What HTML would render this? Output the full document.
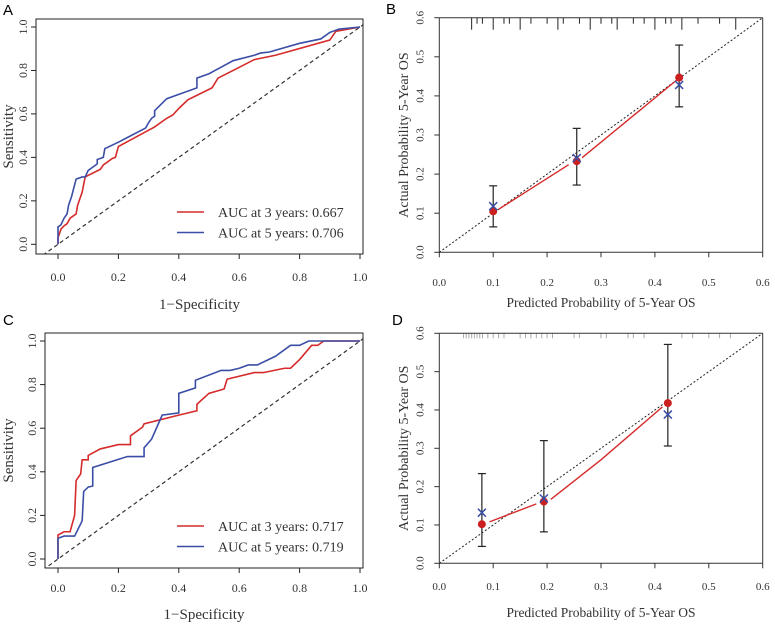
<!DOCTYPE html>
<html><head><meta charset="utf-8"><style>
html,body{margin:0;padding:0;background:#fff;}
svg{display:block;font-family:"Liberation Serif",serif;}
</style></head><body>
<svg id="fig" width="775" height="628" viewBox="0 0 775 628"></svg>
<script>
// ROC data (fpr, tpr)
const rocA3x=[0,0,0.01,0.02,0.03,0.04,0.05,0.06,0.065,0.08,0.09,0.14,0.15,0.18,0.19,0.2,0.32,0.36,0.38,0.4,0.43,0.51,0.53,0.58,0.65,0.72,0.9,0.92,1];
const rocA3y=[0,0.03,0.07,0.085,0.095,0.12,0.13,0.14,0.18,0.24,0.31,0.345,0.365,0.395,0.4,0.45,0.54,0.58,0.595,0.625,0.665,0.72,0.765,0.8,0.85,0.87,0.94,0.98,1];
const rocA5x=[0,0,0.01,0.02,0.03,0.035,0.045,0.06,0.08,0.09,0.1,0.11,0.13,0.13,0.15,0.155,0.2,0.29,0.3,0.31,0.32,0.32,0.36,0.46,0.46,0.5,0.52,0.58,0.65,0.67,0.7,0.8,0.87,0.9,0.93,1];
const rocA5y=[0,0.08,0.09,0.12,0.14,0.18,0.22,0.3,0.31,0.31,0.34,0.35,0.37,0.39,0.4,0.44,0.47,0.535,0.56,0.58,0.59,0.615,0.67,0.72,0.765,0.785,0.8,0.845,0.87,0.88,0.885,0.925,0.945,0.975,0.99,1];
const rocC3x=[0,0,0.02,0.04,0.055,0.06,0.075,0.08,0.1,0.1,0.14,0.2,0.24,0.24,0.28,0.285,0.4,0.46,0.46,0.5,0.55,0.56,0.65,0.68,0.75,0.77,0.8,0.84,0.86,0.88,1];
const rocC3y=[0,0.11,0.125,0.125,0.2,0.36,0.39,0.455,0.455,0.475,0.505,0.525,0.525,0.565,0.605,0.62,0.66,0.68,0.71,0.76,0.78,0.825,0.855,0.855,0.875,0.875,0.915,0.98,0.98,1,1];
const rocC5x=[0,0,0.02,0.055,0.08,0.085,0.1,0.115,0.115,0.23,0.285,0.285,0.31,0.345,0.4,0.4,0.455,0.455,0.54,0.57,0.6,0.63,0.66,0.72,0.77,0.8,0.83,1];
const rocC5y=[0,0.095,0.105,0.105,0.175,0.31,0.33,0.335,0.42,0.47,0.47,0.51,0.55,0.66,0.67,0.76,0.785,0.82,0.865,0.865,0.875,0.89,0.89,0.93,0.98,0.98,1,1];
const rocTicks=[0,0.2,0.4,0.6,0.8,1.0];
const rocTickLabels=["0.0","0.2","0.4","0.6","0.8","1.0"];
const legendA=["AUC at 3 years: 0.667","AUC at 5 years: 0.706"];
const legendC=["AUC at 3 years: 0.717","AUC at 5 years: 0.719"];
// Calibration data
const calBx=[0.1,0.255,0.445];
const calBy=[0.105,0.233,0.447];
const calBcx=[0.118,0.241,0.428];
const calBlo=[0.065,0.172,0.372];
const calBhi=[0.17,0.317,0.53];
const calBlineX=[[0.11,0.24],[0.265,0.44]];
const calBlineY=[[0.11,0.224],[0.242,0.44]];
const calDx=[0.079,0.194,0.424];
const calDy=[0.102,0.161,0.418];
const calDcx=[0.132,0.169,0.388];
const calDlo=[0.044,0.082,0.306];
const calDhi=[0.234,0.32,0.571];
const calDlineX=[[0.093,0.18],[0.207,0.3,0.414]];
const calDlineY=[[0.108,0.155],[0.167,0.27,0.408]];
const rugB=[0.06,0.07,0.08,0.1,0.12,0.13,0.15,0.17,0.2,0.22,0.23,0.26,0.28,0.3,0.32,0.33,0.36,0.38,0.4,0.42,0.43,0.45,0.48,0.52,0.55];
const rugD=[0.045,0.05,0.055,0.06,0.065,0.07,0.075,0.08,0.09,0.1,0.11,0.12,0.15,0.16,0.17,0.18,0.19,0.2,0.21,0.25,0.26,0.3,0.31,0.35,0.36,0.38,0.45,0.47,0.5,0.52,0.54];
const calTicks=[0,0.1,0.2,0.3,0.4,0.5,0.6];
const calTickLabels=["0.0","0.1","0.2","0.3","0.4","0.5","0.6"];

const NS="http://www.w3.org/2000/svg";
const svg=document.getElementById('fig');
function el(tag,attrs,parent,text){const e=document.createElementNS(NS,tag);for(const k in attrs)e.setAttribute(k,attrs[k]);if(text!==undefined)e.textContent=text;(parent||svg).appendChild(e);return e;}
const RED="#d52b2b",BLUE="#3b4ea6";

function rocPanel(name,letter,lx,ly,box,X0,X1,Y0,Y1,tickLabY,titleY,s3x,s3y,s5x,s5y,legend,legY){
  const g=el('g',{},svg);
  
  
  const sx=v=>X0+(X1-X0)*v, sy=v=>Y0+(Y1-Y0)*v;
  const lab=el('text',{x:lx,y:ly,'font-family':'Liberation Sans,sans-serif','font-size':15},g,letter);
  
  
  const cp='clip'+letter;
  const cl=el('clipPath',{id:cp},g);el('rect',{x:box[0],y:box[1],width:box[2]-box[0],height:box[3]-box[1]},cl);
  const d=el('line',{x1:sx(-0.05),y1:sy(-0.05),x2:sx(1.05),y2:sy(1.05),stroke:'#333','stroke-width':1.2,'stroke-dasharray':'4,3','clip-path':`url(#${cp})`},g);
  
  
  [[s3x,s3y,RED,'roc-3-year'],[s5x,s5y,BLUE,'roc-5-year']].forEach(([xs,ys,c,n])=>{
    const p=el('polyline',{points:xs.map((v,i)=>sx(v)+','+sy(ys[i])).join(' '),fill:'none',stroke:c,'stroke-width':1.6},g);
    
    
  });
  const b=el('rect',{x:box[0],y:box[1],width:box[2]-box[0],height:box[3]-box[1],fill:'none',stroke:'#222','stroke-width':1},g);
  
  
  rocTicks.forEach((t,i)=>{
    el('line',{x1:sx(t),x2:sx(t),y1:box[3],y2:box[3]+5,stroke:'#222'},g);
    const tl=el('text',{x:sx(t),y:tickLabY,'text-anchor':'middle','font-size':12,fill:'#333'},g,rocTickLabels[i]);
    
    
    el('line',{x1:box[0]-5,x2:box[0],y1:sy(t),y2:sy(t),stroke:'#222'},g);
    const yl=el('text',{x:0,y:0,transform:`translate(${box[0]-9},${sy(t)}) rotate(-90)`,'text-anchor':'middle','font-size':12,fill:'#333'},g,rocTickLabels[i]);
    
    
  });
  const xt=el('text',{x:(box[0]+box[2])/2,y:titleY,'text-anchor':'middle','font-size':15,fill:'#333'},g,'1\u2212Specificity');
  
  
  const yt=el('text',{x:0,y:0,transform:`translate(13,${(box[1]+box[3])/2}) rotate(-90)`,'text-anchor':'middle','font-size':15,fill:'#333'},g,'Sensitivity');
  
  
  [RED,BLUE].forEach((c,i)=>{
    const y=legY+i*20.5;
    const lg=el('g',{},g);
    
    
    el('line',{x1:177,x2:204,y1:y,y2:y,stroke:c,'stroke-width':1.6},lg);
    el('text',{x:218,y:y+5,'font-size':14,fill:'#333'},lg,legend[i]);
  });
}

function calPanel(name,letter,lx,ly,box,tickLabY,titleY,px,py,cx,lo,hi,lx2,ly2,rug,rugLong){
  const g=el('g',{},svg);
  
  
  const sx=v=>box[0]+(box[2]-box[0])*v/0.6, sy=v=>box[3]-(box[3]-box[1])*v/0.6;
  const lab=el('text',{x:lx,y:ly,'font-family':'Liberation Sans,sans-serif','font-size':15},g,letter);
  
  
  rug.forEach((r,i)=>{
    const t=el('line',{x1:sx(r),x2:sx(r),y1:box[1],y2:box[1]+(rugLong?(i%3==0?12:6):5),stroke:rugLong?'#222':'#aaa','stroke-width':1},g);
    
    
  });
  const d=el('line',{x1:sx(0),y1:sy(0),x2:sx(0.6),y2:sy(0.6),stroke:'#222','stroke-width':1,'stroke-dasharray':'2,2'},g);
  
  
  lx2.forEach((seg,k)=>{
    const p=el('polyline',{points:seg.map((v,i)=>sx(v)+','+sy(ly2[k][i])).join(' '),fill:'none',stroke:RED,'stroke-width':1.4},g);
    
    
  });
  px.forEach((v,i)=>{
    const eb=el('g',{stroke:'#222','stroke-width':1.2},g);
    
    
    el('line',{x1:sx(v),x2:sx(v),y1:sy(lo[i]),y2:sy(hi[i])},eb);
    el('line',{x1:sx(v)-4,x2:sx(v)+4,y1:sy(lo[i]),y2:sy(lo[i])},eb);
    el('line',{x1:sx(v)-4,x2:sx(v)+4,y1:sy(hi[i]),y2:sy(hi[i])},eb);
    const pt=el('circle',{cx:sx(v),cy:sy(py[i]),r:4,fill:'#cc1f1f'},g);
    
    
    const X=sx(v),Y=sy(cx[i]);
    const cr=el('path',{d:`M${X-4},${Y-4}L${X+4},${Y+4}M${X-4},${Y+4}L${X+4},${Y-4}`,stroke:BLUE,'stroke-width':1.5},g);
    
    
  });
  const ax=el('path',{d:`M${box[0]},${box[3]}H${box[2]}M${box[0]},${box[1]}H${box[2]}M${box[0]},${box[1]}V${box[3]}M${box[2]},${box[1]}V${box[3]}`,stroke:'#333','stroke-width':1,fill:'none'},g);
  
  
  calTicks.forEach((t,i)=>{
    el('line',{x1:sx(t),x2:sx(t),y1:box[3],y2:box[3]+5,stroke:'#333'},g);
    const tl=el('text',{x:sx(t),y:tickLabY,'text-anchor':'middle','font-size':11,fill:'#333'},g,calTickLabels[i]);
    
    
    el('line',{x1:box[0]-5,x2:box[0],y1:sy(t),y2:sy(t),stroke:'#333'},g);
    const yl=el('text',{x:0,y:0,transform:`translate(${box[0]-16},${sy(t)}) rotate(-90)`,'text-anchor':'middle','font-size':11,fill:'#333'},g,calTickLabels[i]);
    
    
  });
  const xt=el('text',{x:(box[0]+box[2])/2,y:titleY,'text-anchor':'middle','font-size':13.5,fill:'#333'},g,'Predicted Probability of 5-Year OS');
  
  
  const yt=el('text',{x:0,y:0,transform:`translate(408,${(box[1]+box[3])/2}) rotate(-90)`,'text-anchor':'middle','font-size':14,fill:'#333'},g,'Actual Probability 5-Year OS');
  
  
}

rocPanel('roc-panel-a','A',3,15,[36,19,363,254],58,360,244.3,27,281,309,rocA3x,rocA3y,rocA5x,rocA5y,legendA,212);
rocPanel('roc-panel-c','C',3,325,[45,333,363,568],58,360,559,341,592,619,rocC3x,rocC3y,rocC5x,rocC5y,legendC,526);
calPanel('calibration-panel-b','B',386,14,[439.3,17.7,762.7,252.3],286,307,calBx,calBy,calBcx,calBlo,calBhi,calBlineX,calBlineY,rugB,true);
calPanel('calibration-panel-d','D',392,325,[439.3,333.3,762.7,563.3],590,617,calDx,calDy,calDcx,calDlo,calDhi,calDlineX,calDlineY,rugD,false);
</script>
</body></html>
